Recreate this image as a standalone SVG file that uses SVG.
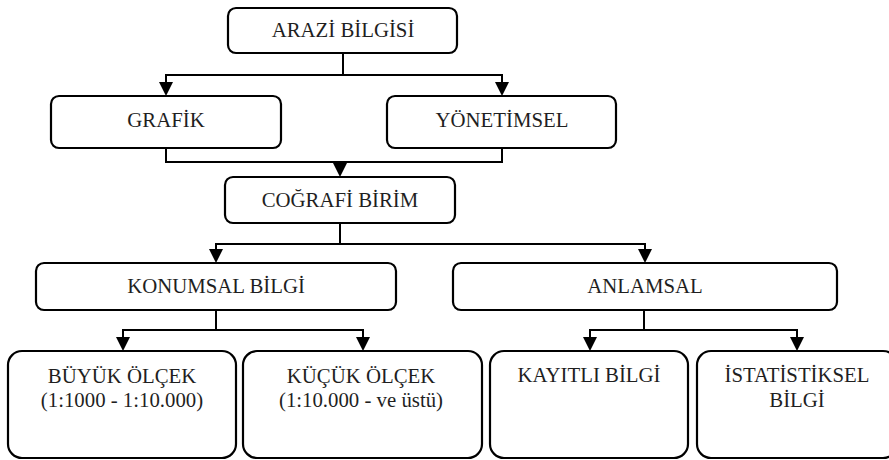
<svg xmlns="http://www.w3.org/2000/svg" width="889" height="460" viewBox="0 0 889 460">
  <style>
    .box { fill: #ffffff; stroke: #000000; stroke-width: 2.2; }
    .lbl { font-family: "Liberation Serif", "Times New Roman", Times, serif; font-size: 20.8px; fill: #1f1f1f; text-anchor: middle; }
    .wire { fill: none; stroke: #000000; stroke-width: 2; }
  </style>
  <defs>
    <!-- downward arrowhead, tip at (0,0) -->
    <path id="head" d="M-7,-14 L7,-14 L0,0 z" fill="#000000"/>
  </defs>

  <rect width="889" height="460" fill="#ffffff"/>

  <!-- connectors -->
  <g id="connectors">
    <path class="wire" d="M343,53 V75 M166,90 V75 H502 V90"/>
    <use href="#head" x="166" y="96"/>
    <use href="#head" x="502" y="96"/>

    <path class="wire" d="M166,148 V162 H502 V148 M340,162 V170"/>
    <use href="#head" x="340" y="177"/>

    <path class="wire" d="M340,223 V244 M216,257 V244 H645 V257"/>
    <use href="#head" x="216" y="263"/>
    <use href="#head" x="645" y="263"/>

    <path class="wire" d="M216,310 V330 M123,345 V330 H363 V345"/>
    <use href="#head" x="123" y="351"/>
    <use href="#head" x="363" y="351"/>

    <path class="wire" d="M644,310 V330 M590,345 V330 H797 V345"/>
    <use href="#head" x="590" y="351"/>
    <use href="#head" x="797" y="351"/>
  </g>

  <!-- nodes -->
  <g id="arazi-bilgisi">
    <rect class="box" x="228" y="8" width="229" height="45" rx="8"/>
    <text class="lbl" x="343" y="37">ARAZİ BİLGİSİ</text>
  </g>
  <g id="grafik">
    <rect class="box" x="51" y="96" width="230" height="52" rx="8"/>
    <text class="lbl" x="166" y="127">GRAFİK</text>
  </g>
  <g id="yonetimsel">
    <rect class="box" x="387" y="96" width="229" height="52" rx="8"/>
    <text class="lbl" x="502" y="127">YÖNETİMSEL</text>
  </g>
  <g id="cografi-birim">
    <rect class="box" x="225" y="177" width="230" height="46" rx="8"/>
    <text class="lbl" x="340" y="207">COĞRAFİ BİRİM</text>
  </g>
  <g id="konumsal-bilgi">
    <rect class="box" x="36" y="263" width="360" height="47" rx="8"/>
    <text class="lbl" x="216" y="293">KONUMSAL BİLGİ</text>
  </g>
  <g id="anlamsal">
    <rect class="box" x="453" y="263" width="384" height="47" rx="8"/>
    <text class="lbl" x="645" y="293">ANLAMSAL</text>
  </g>
  <g id="buyuk-olcek">
    <rect class="box" x="8" y="351" width="228" height="107" rx="14"/>
    <text class="lbl" x="122" y="383">BÜYÜK ÖLÇEK</text>
    <text class="lbl" x="122" y="407">(1:1000 - 1:10.000)</text>
  </g>
  <g id="kucuk-olcek">
    <rect class="box" x="243" y="351" width="239" height="107" rx="14"/>
    <text class="lbl" x="361" y="383">KÜÇÜK ÖLÇEK</text>
    <text class="lbl" x="361" y="407">(1:10.000 - ve üstü)</text>
  </g>
  <g id="kayitli-bilgi">
    <rect class="box" x="490" y="351" width="198" height="107" rx="14"/>
    <text class="lbl" x="589" y="382">KAYITLI BİLGİ</text>
  </g>
  <g id="istatistiksel-bilgi">
    <rect class="box" x="697" y="351" width="200" height="107" rx="14"/>
    <text class="lbl" x="797" y="382">İSTATİSTİKSEL</text>
    <text class="lbl" x="797" y="407">BİLGİ</text>
  </g>
</svg>
